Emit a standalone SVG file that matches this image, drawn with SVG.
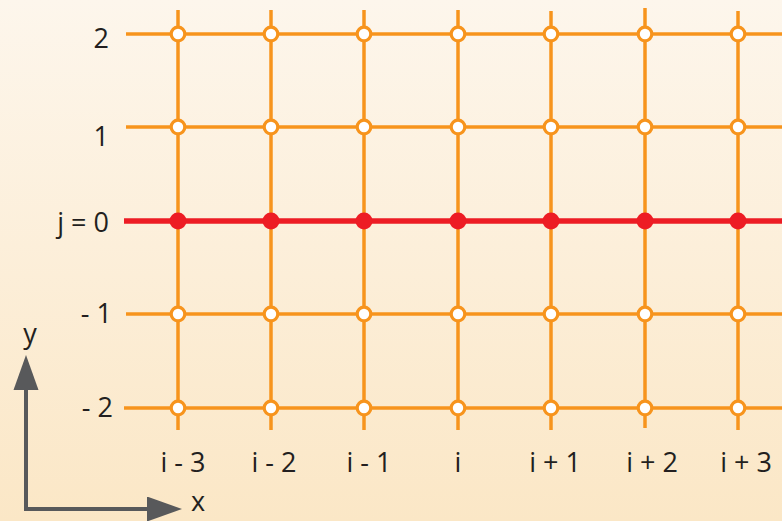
<svg xmlns="http://www.w3.org/2000/svg" width="782" height="521" viewBox="0 0 782 521">
<defs>
<linearGradient id="bg" x1="0" y1="0" x2="0" y2="1">
<stop offset="0" stop-color="#fdf6ec"/>
<stop offset="1" stop-color="#fbe7c6"/>
</linearGradient>
<marker id="ah" viewBox="0 0 35 25" refX="0" refY="12.5" markerWidth="35" markerHeight="25" markerUnits="userSpaceOnUse" orient="auto">
<path d="M0,0 L35,12.5 L0,25 Z" fill="#58595b"/>
</marker>
</defs>
<style>
.g{stroke:#f7941d;stroke-width:3.5;fill:none}
.r{stroke:#ed1c24;stroke-width:5.5;fill:none}
.o{fill:#fff;stroke:#f7941d;stroke-width:3.2}
.f{fill:#ed1c24}
.t{font-family:"Open Sans","Noto Sans",sans-serif;font-size:27px;fill:#231f20}
.ax{stroke:#58595b;stroke-width:4;fill:none}
</style>
<rect width="782" height="521" fill="url(#bg)"/>
<g id="grid">
<line class="g" x1="126" y1="34" x2="782" y2="34"/>
<line class="g" x1="126" y1="127" x2="782" y2="127"/>
<line class="g" x1="126" y1="314" x2="782" y2="314"/>
<line class="g" x1="124" y1="408" x2="782" y2="408"/>
<line class="g" x1="178" y1="10" x2="178" y2="430"/>
<line class="g" x1="271" y1="10" x2="271" y2="430"/>
<line class="g" x1="364" y1="10" x2="364" y2="430"/>
<line class="g" x1="458" y1="10" x2="458" y2="430"/>
<line class="g" x1="551" y1="11" x2="551" y2="430"/>
<line class="g" x1="645" y1="8" x2="645" y2="428"/>
<line class="g" x1="738" y1="11" x2="738" y2="430"/>
<line class="r" x1="124" y1="221" x2="782" y2="221"/>
</g>
<g id="nodes">
<g id="row2"><circle class="o" cx="178" cy="34" r="6.8"/><circle class="o" cx="271" cy="34" r="6.8"/><circle class="o" cx="364" cy="34" r="6.8"/><circle class="o" cx="458" cy="34" r="6.8"/><circle class="o" cx="551" cy="34" r="6.8"/><circle class="o" cx="645" cy="34" r="6.8"/><circle class="o" cx="738" cy="34" r="6.8"/></g>
<g id="row1"><circle class="o" cx="178" cy="127" r="6.8"/><circle class="o" cx="271" cy="127" r="6.8"/><circle class="o" cx="364" cy="127" r="6.8"/><circle class="o" cx="458" cy="127" r="6.8"/><circle class="o" cx="551" cy="127" r="6.8"/><circle class="o" cx="645" cy="127" r="6.8"/><circle class="o" cx="738" cy="127" r="6.8"/></g>
<g id="row0"><circle class="f" cx="178" cy="221" r="8.5"/><circle class="f" cx="271" cy="221" r="8.5"/><circle class="f" cx="364" cy="221" r="8.5"/><circle class="f" cx="458" cy="221" r="8.5"/><circle class="f" cx="551" cy="221" r="8.5"/><circle class="f" cx="645" cy="221" r="8.5"/><circle class="f" cx="738" cy="221" r="8.5"/></g>
<g id="rowm1"><circle class="o" cx="178" cy="314" r="6.8"/><circle class="o" cx="271" cy="314" r="6.8"/><circle class="o" cx="364" cy="314" r="6.8"/><circle class="o" cx="458" cy="314" r="6.8"/><circle class="o" cx="551" cy="314" r="6.8"/><circle class="o" cx="645" cy="314" r="6.8"/><circle class="o" cx="738" cy="314" r="6.8"/></g>
<g id="rowm2"><circle class="o" cx="178" cy="408" r="6.8"/><circle class="o" cx="271" cy="408" r="6.8"/><circle class="o" cx="364" cy="408" r="6.8"/><circle class="o" cx="458" cy="408" r="6.8"/><circle class="o" cx="551" cy="408" r="6.8"/><circle class="o" cx="645" cy="408" r="6.8"/><circle class="o" cx="738" cy="408" r="6.8"/></g>
</g>
<g id="labels" class="t">
<text x="109" y="48" text-anchor="end">2</text>
<text x="109" y="146" text-anchor="end">1</text>
<text x="109" y="232" text-anchor="end">j = 0</text>
<text x="112" y="323" text-anchor="end">- 1</text>
<text x="113" y="417" text-anchor="end">- 2</text>
<text x="183" y="472" text-anchor="middle">i - 3</text>
<text x="274" y="472" text-anchor="middle">i - 2</text>
<text x="369" y="472" text-anchor="middle">i - 1</text>
<text x="458" y="472" text-anchor="middle">i</text>
<text x="555" y="472" text-anchor="middle">i + 1</text>
<text x="652" y="472" text-anchor="middle">i + 2</text>
<text x="746" y="472" text-anchor="middle">i + 3</text>
<text x="30" y="343" text-anchor="middle">y</text>
<text x="198" y="511" text-anchor="middle">x</text>
</g>
<g id="axes">
<path class="ax" d="M26,390 L26,509 L147,509" marker-end="url(#ah)"/>
<path d="M26,355 L38.5,390 L13.5,390 Z" fill="#58595b"/>
</g>
</svg>
